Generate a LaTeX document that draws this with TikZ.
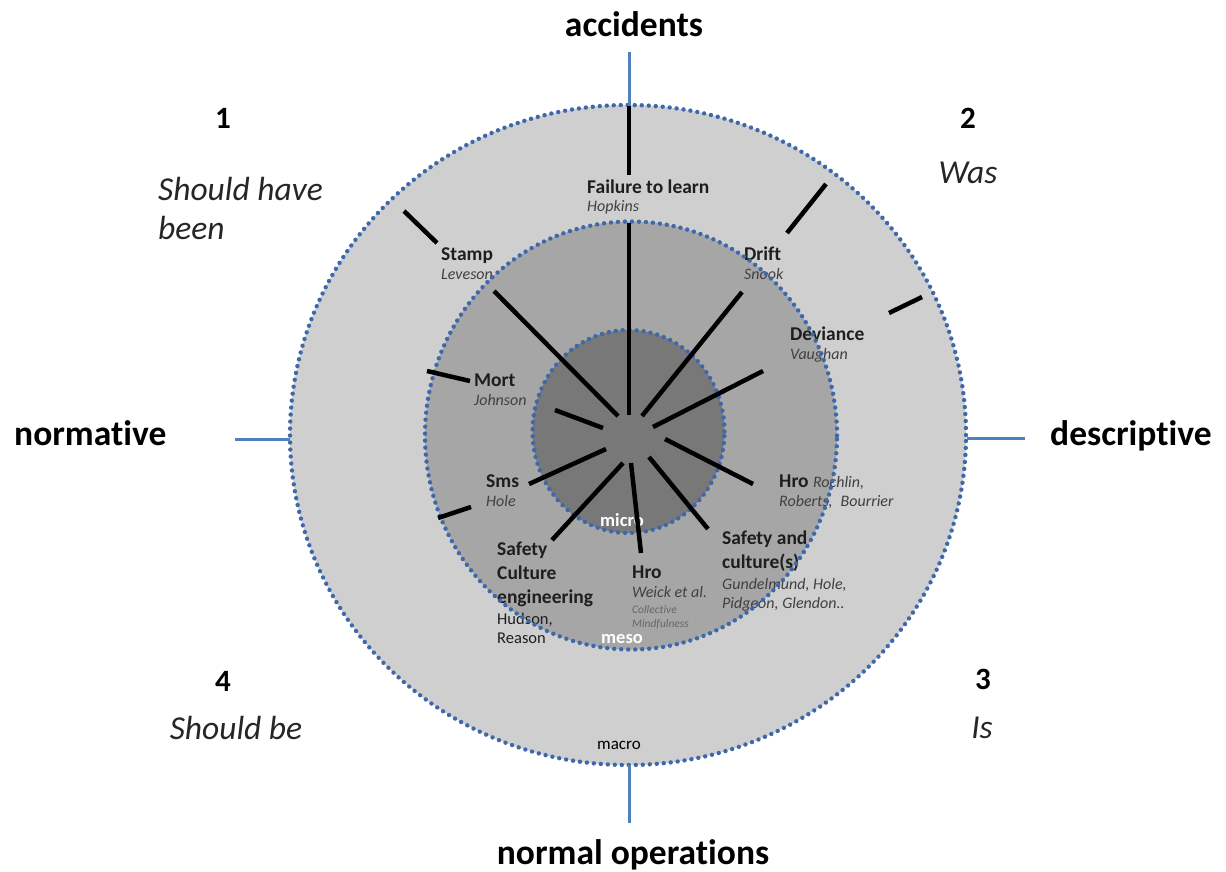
\documentclass[tikz,border=0pt]{standalone}
\usepackage{fontspec}
\setmainfont[Ligatures={NoCommon}]{Carlito}
\definecolor{ringblue}{RGB}{62,104,170}
\definecolor{axisblue}{RGB}{79,129,189}
\definecolor{outerfill}{RGB}{207,207,207}
\definecolor{midfill}{RGB}{166,166,166}
\definecolor{innerfill}{RGB}{120,120,120}
\definecolor{labgray}{RGB}{30,30,30}
\definecolor{authgray}{RGB}{64,64,64}
\definecolor{qgray}{RGB}{38,38,38}
\begin{document}
\begin{tikzpicture}[x=1pt,y=-1pt,
  ringline/.style={draw=ringblue, line width=4.4pt, dash pattern=on 0pt off 7pt, line cap=round},
  spoke/.style={line width=4.5pt, draw=black},
  axisline/.style={line width=3pt, draw=axisblue},
  txt/.style={inner sep=0pt, anchor=base west},
  ctxt/.style={inner sep=0pt, anchor=base},
  big/.style={font=\fontsize{35.5}{40}\selectfont\bfseries, text=black},
  num/.style={font=\fontsize{31}{36}\selectfont\bfseries, text=black},
  quad/.style={font=\fontsize{33.5}{39}\selectfont\itshape, text=qgray},
  lab/.style={font=\fontsize{19.5}{23}\selectfont\bfseries, text=labgray},
  auth/.style={font=\fontsize{16}{19}\selectfont\itshape, text=authgray},
  refr/.style={font=\fontsize{16.5}{19}\selectfont, text=labgray},
  tiny/.style={font=\fontsize{11.5}{14}\selectfont\itshape, text=authgray!80},
  lvl/.style={font=\fontsize{18.5}{21}\selectfont\bfseries, text=white},
]
\fill[white] (0,0) rectangle (1226,871);
\useasboundingbox (0,0) rectangle (1226,871);

% ring fills
\fill[outerfill] (628,435) ellipse [x radius=338pt, y radius=330pt];
\fill[midfill] (631,435.5) ellipse [x radius=206pt, y radius=214pt];
\fill[innerfill] (628.5,431.5) ellipse [x radius=96pt, y radius=101.5pt];

% texts inside rings
\node[txt,lab] (fail) at (587,193) {Failure to learn};
\node[txt,auth] (hop) at (587,211) {Hopkins};
\node[txt,lab] (stamp) at (441,260) {Stamp};
\node[txt,auth] (lev) at (441,279) {Leveson};
\node[txt,lab] (drift) at (744,260) {Drift};
\node[txt,auth] (snook) at (744,279) {Snook};
\node[txt,lab] (dev) at (790,340) {Deviance};
\node[txt,auth] (vau) at (790,359) {Vaughan};
\node[txt,lab] (mort) at (474,386) {Mort};
\node[txt,auth] (john) at (474,405) {Johnson};
\node[txt,lab] (sms) at (486,487) {Sms};
\node[txt,auth] (hole) at (486,506) {Hole};
\node[txt,lab] (hroa) at (779,487) {Hro {\fontsize{16}{19}\selectfont\mdseries\itshape\color{authgray}Rochlin,}};
\node[txt,auth] (rob) at (779,506) {Roberts,\enspace Bourrier};
\node[txt,lab] (saf) at (722,544) {Safety and};
\node[txt,lab] (cul) at (722,568) {culture(s)};
\node[txt,auth] (gun) at (722,589) {Gundelmund, Hole,};
\node[txt,auth] (pid) at (722,608) {Pidgeon, Glendon..};
\node[txt,lab] (sce1) at (497,555) {Safety};
\node[txt,lab] (sce2) at (497,579) {Culture};
\node[txt,lab] (sce3) at (497,603) {engineering};
\node[txt,refr] (hud) at (497,624) {Hudson,};
\node[txt,refr] (rea) at (497,643) {Reason};
\node[txt,lab] (hrob) at (632,578) {Hro};
\node[txt,auth] (weick) at (632,597) {Weick et al.};
\node[txt,tiny] (coll) at (632,613) {Collective};
\node[txt,tiny] (mind) at (632,627) {Mindfulness};
\node[ctxt,lvl] (micro) at (622,526) {micro};
\node[ctxt,lvl] (meso) at (622,643) {meso};
\node[ctxt,font=\fontsize{17}{20}\selectfont] (macro) at (619,749) {macro};

% dotted ring borders
\draw[ringline] (628,435) ellipse [x radius=338pt, y radius=330pt];
\draw[ringline] (631,435.5) ellipse [x radius=206pt, y radius=214pt];
\draw[ringline] (628.5,431.5) ellipse [x radius=96pt, y radius=101.5pt];

% spokes
\foreach \n/\ax/\ay/\bx/\by in {
  fo/629/106/629/175, fi/629/223/629/415,
  so/404/211/437/243, si/494/291/618/416,
  dro/826/184/787/233, dri/742/292/642/416,
  dvo/889/313/922/297, dvi/763/371/653/427,
  mo/427/371/470/381, mi/555/410/603/428,
  smo/438/518/471/507, smi/529/484/606/449,
  hr/665/439/753/484, sc/649/457/708/529,
  hw/631/463/641/553, sce/623/463/552/540}{
  \coordinate (\n a) at (\ax,\ay);
  \coordinate (\n b) at (\bx,\by);
  \draw[spoke] (\n a) -- (\n b);
}

% axis labels and lines
\node[ctxt,big] (acc) at (634,36) {accidents};
\node[txt,big] (norm) at (14,445) {normative};
\node[txt,big] (desc) at (1050,445) {descriptive};
\node[ctxt,big] (nops) at (633,864) {normal operations};
\coordinate (at1) at (629,52);  \coordinate (at2) at (629,106);
\coordinate (ar1) at (967,438); \coordinate (ar2) at (1025,438);
\coordinate (ab1) at (629,765); \coordinate (ab2) at (629,823);
\coordinate (al1) at (235,439); \coordinate (al2) at (290,439);
\draw[axisline] (at1) -- (at2);
\draw[axisline] (ar1) -- (ar2);
\draw[axisline] (ab1) -- (ab2);
\draw[axisline] (al1) -- (al2);

% quadrant labels
\node[ctxt,num] (q1) at (223,128) {1};
\node[ctxt,num] (q2) at (968,128) {2};
\node[ctxt,num] (q3) at (983,689) {3};
\node[ctxt,num] (q4) at (223,691) {4};
\node[txt,quad] (t1a) at (158,200) {Should have};
\node[txt,quad] (t1b) at (158,239) {been};
\node[ctxt,quad] (t2) at (968,183) {Was};
\node[ctxt,quad] (t3) at (982,738) {Is};
\node[ctxt,quad] (t4) at (236,739) {Should be};
\end{tikzpicture}
\end{document}
